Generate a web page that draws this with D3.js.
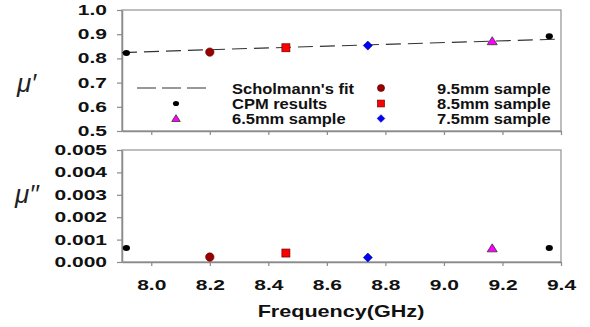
<!DOCTYPE html>
<html>
<head>
<meta charset="utf-8">
<script src="https://cdn.jsdelivr.net/npm/d3@7"></script>
<style>
  body { margin: 0; background: #fff; }
  svg { display: block; font-family: "Liberation Sans", Arial, sans-serif; }
</style>
</head>
<body>
<svg id="chart"></svg>
<script>
// data
const cpmResults = [{ f: 7.915, mu1: 0.822, mu2: 0.00063 }, { f: 9.36, mu1: 0.892, mu2: 0.00063 }];
const sample95 = [{ f: 8.2, mu1: 0.826, mu2: 0.00022 }];
const sample85 = [{ f: 8.46, mu1: 0.844, mu2: 0.00040 }];
const sample75 = [{ f: 8.74, mu1: 0.853, mu2: 0.00020 }];
const sample65 = [{ f: 9.165, mu1: 0.871, mu2: 0.00061 }];
const fitFreq = [7.9, 8.2, 8.5, 8.8, 9.1, 9.4];
const fitMu1 = [0.824, 0.836, 0.847, 0.858, 0.869, 0.880];
const xTicks = [8.0, 8.2, 8.4, 8.6, 8.8, 9.0, 9.2, 9.4];
const topTicks = [0.5, 0.6, 0.7, 0.8, 0.9, 1.0];
const bottomTicks = [0, 0.001, 0.002, 0.003, 0.004, 0.005];

const W = 590, H = 327;
const left = 122, right = 561;
const topPanel = { y0: 10, y1: 131 };
const botPanel = { y0: 150, y1: 262 };
const axisColor = '#8a8a8a';
const textColor = '#111';

const svg = d3.select('#chart').attr('width', W).attr('height', H);

// stretch text horizontally around its anchor point
function stretch(sel, sx) {
  sel.each(function () {
    const t = d3.select(this);
    const x = +t.attr('x') || 0;
    const y = +t.attr('y') || 0;
    t.attr('x', 0).attr('y', 0).attr('transform', `translate(${x},${y}) scale(${sx},1)`);
  });
}

const x = d3.scaleLinear().domain([7.9, 9.4]).range([left, right]);
const yTop = d3.scaleLinear().domain([0.5, 1.0]).range([topPanel.y1, topPanel.y0]);
const yBot = d3.scaleLinear().domain([0, 0.005]).range([botPanel.y1, botPanel.y0]);

function frame(p) {
  svg.append('rect')
    .attr('x', left).attr('y', p.y0)
    .attr('width', right - left).attr('height', p.y1 - p.y0)
    .attr('fill', 'none').attr('stroke', '#9a9a9a').attr('stroke-width', 1.3);
}
frame(topPanel);
frame(botPanel);

function styleAxis(g) {
  g.select('.domain').attr('stroke', axisColor).attr('stroke-width', 1.5);
  g.selectAll('.tick line').attr('stroke', axisColor).attr('stroke-width', 1.2);
  g.selectAll('text')
    .attr('fill', textColor)
    .attr('font-size', 14)
    .attr('font-weight', 'bold');
}

// top panel axes
const yTopG = svg.append('g').attr('transform', `translate(${left},0)`)
  .call(d3.axisLeft(yTop).tickValues(topTicks).tickFormat(d3.format('.1f')).tickSize(5).tickPadding(10).tickSizeOuter(0));
styleAxis(yTopG);
stretch(yTopG.selectAll('text'), 1.5);

const xTopG = svg.append('g').attr('transform', `translate(0,${topPanel.y1})`)
  .call(d3.axisBottom(x).tickValues(xTicks).tickFormat('').tickSize(4).tickSizeOuter(0));
styleAxis(xTopG);

// bottom panel axes
const yBotG = svg.append('g').attr('transform', `translate(${left},0)`)
  .call(d3.axisLeft(yBot).tickValues(bottomTicks).tickFormat(d3.format('.3f')).tickSize(5).tickPadding(10).tickSizeOuter(0));
styleAxis(yBotG);
stretch(yBotG.selectAll('text'), 1.5);

const xBotG = svg.append('g').attr('transform', `translate(0,${botPanel.y1})`)
  .call(d3.axisBottom(x).tickValues(xTicks).tickFormat(d3.format('.1f')).tickSize(4).tickPadding(14).tickSizeOuter(0));
styleAxis(xBotG);
stretch(xBotG.selectAll('text'), 1.5);

// axis titles
const xTitle = svg.append('text')
  .attr('x', 341).attr('y', 317)
  .attr('text-anchor', 'middle')
  .attr('font-size', 17).attr('font-weight', 'bold').attr('fill', textColor)
  .text('Frequency(GHz)');
stretch(xTitle, 1.27);

svg.append('text')
  .attr('x', 17).attr('y', 92)
  .attr('font-size', 26).attr('font-style', 'italic').attr('fill', '#222')
  .text('μ′');
svg.append('text')
  .attr('x', 15).attr('y', 203)
  .attr('font-size', 26).attr('font-style', 'italic').attr('fill', '#222')
  .text('μ′′');

// Scholmann's fit
const fitData = fitFreq.map((f, i) => ({ f, mu1: fitMu1[i] }));
svg.append('path')
  .datum(fitData)
  .attr('fill', 'none')
  .attr('stroke', '#333')
  .attr('stroke-width', 1.1)
  .attr('stroke-dasharray', '15,7')
  .attr('d', d3.line().x((d) => x(d.f)).y((d) => yTop(d.mu1)));

// marker drawing
const markers = {
  cpm: (g, s) => g.append('ellipse').attr('rx', 3.6 * s).attr('ry', 3 * s).attr('fill', '#000'),
  s95: (g, s) => g.append('circle').attr('r', 4.2 * s).attr('fill', '#990000').attr('stroke', '#5a0000').attr('stroke-width', 0.6),
  s85: (g, s) => g.append('rect').attr('x', -4 * s).attr('y', -4 * s).attr('width', 8 * s).attr('height', 8 * s)
    .attr('fill', '#ff0000').attr('stroke', '#600').attr('stroke-width', 0.7),
  s75: (g, s) => g.append('path').attr('d', d3.symbol().type(d3.symbolDiamond2).size(52 * s * s)())
    .attr('fill', '#0000ff').attr('stroke', '#000088').attr('stroke-width', 0.6),
  s65: (g, s) => g.append('path').attr('d', `M0,${-4.5 * s}L${5 * s},${3.5 * s}L${-5 * s},${3.5 * s}Z`)
    .attr('fill', '#ff00ff').attr('stroke', '#333').attr('stroke-width', 0.8),
};

const seriesList = [
  { key: 'cpm', data: cpmResults },
  { key: 's95', data: sample95 },
  { key: 's85', data: sample85 },
  { key: 's75', data: sample75 },
  { key: 's65', data: sample65 },
];

seriesList.forEach((s) => {
  s.data.forEach((d) => {
    markers[s.key](svg.append('g').attr('transform', `translate(${x(d.f)},${yTop(d.mu1)})`), 1);
    markers[s.key](svg.append('g').attr('transform', `translate(${x(d.f)},${yBot(d.mu2)})`), 1);
  });
});

// legend
const legendRows = [88, 103.5, 118.5];
const legendItems = [
  { key: 'fit', label: "Scholmann's fit", col: 0, row: 0 },
  { key: 'cpm', label: 'CPM results', col: 0, row: 1 },
  { key: 's65', label: '6.5mm sample', col: 0, row: 2 },
  { key: 's95', label: '9.5mm sample', col: 1, row: 0 },
  { key: 's85', label: '8.5mm sample', col: 1, row: 1 },
  { key: 's75', label: '7.5mm sample', col: 1, row: 2 },
];
const legendCols = [{ sym: 176, text: 232 }, { sym: 381, text: 437 }];

legendItems.forEach((it) => {
  const cy = legendRows[it.row];
  const c = legendCols[it.col];
  if (it.key === 'fit') {
    svg.append('line')
      .attr('x1', 137).attr('x2', 206).attr('y1', cy).attr('y2', cy)
      .attr('stroke', '#333').attr('stroke-width', 1.1)
      .attr('stroke-dasharray', '19,6');
  } else {
    markers[it.key](svg.append('g').attr('transform', `translate(${c.sym},${cy})`), 0.85);
  }
  const t = svg.append('text')
    .attr('x', c.text).attr('y', cy + 5.5)
    .attr('font-size', 15).attr('font-weight', 'bold').attr('fill', textColor)
    .text(it.label);
  stretch(t, 1.1);
});
</script>
</body>
</html>
